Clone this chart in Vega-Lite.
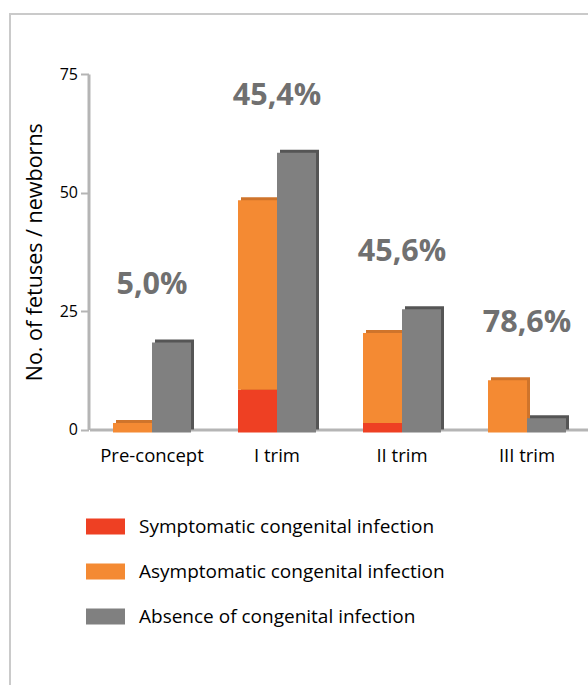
{
  "$schema": "https://vega.github.io/schema/vega-lite/v6.json",
  "width": 580,
  "height": 673,
  "autosize": {"type": "none"},
  "padding": {"left": 10, "top": 14, "right": 0, "bottom": 0},
  "background": "white",
  "config": {
    "font": "Open Sans",
    "view": {"stroke": "#cacaca", "strokeWidth": 2}
  },
  "datasets": {
    "bars": [
      {"period": "Pre-concept", "group": "Infected", "category": "Asymptomatic congenital infection", "value": 2},
      {"period": "Pre-concept", "group": "Uninfected", "category": "Absence of congenital infection", "value": 19},
      {"period": "I trim", "group": "Infected", "category": "Symptomatic congenital infection", "value": 9},
      {"period": "I trim", "group": "Infected", "category": "Asymptomatic congenital infection", "value": 40},
      {"period": "I trim", "group": "Uninfected", "category": "Absence of congenital infection", "value": 59},
      {"period": "II trim", "group": "Infected", "category": "Symptomatic congenital infection", "value": 2},
      {"period": "II trim", "group": "Infected", "category": "Asymptomatic congenital infection", "value": 19},
      {"period": "II trim", "group": "Uninfected", "category": "Absence of congenital infection", "value": 26},
      {"period": "III trim", "group": "Infected", "category": "Asymptomatic congenital infection", "value": 11},
      {"period": "III trim", "group": "Uninfected", "category": "Absence of congenital infection", "value": 3}
    ],
    "labels": [
      {"period": "Pre-concept", "label": "5,0%", "top": 19},
      {"period": "I trim", "label": "45,4%", "top": 59},
      {"period": "II trim", "label": "45,6%", "top": 26},
      {"period": "III trim", "label": "78,6%", "top": 11}
    ]
  },
  "layer": [
    {
      "data": {"name": "bars"},
      "mark": {"type": "bar"},
      "encoding": {
        "x": {
          "field": "period", "type": "nominal",
          "sort": ["Pre-concept", "I trim", "II trim", "III trim"],
          "scale": {"range": [79.5, 579.5], "paddingInner": 0.376, "paddingOuter": 0.188},
          "axis": {
            "title": null, "offset": -257.5, "ticks": false, "tickSize": 0,
            "labelFontSize": 18.5, "labelColor": "black", "labelPadding": 17, "labelAngle": 0,
            "domainColor": "#b5b5b5", "domainWidth": 3
          }
        },
        "xOffset": {
          "field": "group", "type": "nominal", "sort": ["Infected", "Uninfected"],
          "scale": {"range": [3, 81], "paddingInner": 0, "paddingOuter": 0}
        },
        "y": {
          "field": "value", "type": "quantitative", "stack": "zero",
          "scale": {"domain": [0, 75], "range": [415.5, 60], "nice": false},
          "axis": {
            "values": [0, 25, 50, 75], "title": "No. of fetuses / newborns", "offset": -78.5, "grid": false,
            "domainColor": "#b5b5b5", "domainWidth": 3, "tickColor": "#b5b5b5", "tickWidth": 2, "tickSize": 8,
            "labelFontSize": 16, "labelColor": "black", "labelPadding": 3,
            "titleFontSize": 21.5, "titleFontWeight": "normal", "titleColor": "black", "titlePadding": 13
          }
        },
        "color": {
          "field": "category", "type": "nominal",
          "scale": {
            "domain": ["Symptomatic congenital infection", "Asymptomatic congenital infection", "Absence of congenital infection"],
            "range": ["#b53219", "#cf742b", "#555555"]
          },
          "legend": null
        },
        "order": {"field": "category", "sort": "descending"}
      }
    },
    {
      "data": {"name": "bars"},
      "mark": {"type": "bar", "yOffset": 3, "y2Offset": 3},
      "encoding": {
        "x": {"field": "period", "type": "nominal", "sort": ["Pre-concept", "I trim", "II trim", "III trim"]},
        "xOffset": {
          "field": "group", "type": "nominal", "sort": ["Infected", "Uninfected"],
          "scale": {"range": [0, 78], "paddingInner": 0, "paddingOuter": 0}
        },
        "y": {"field": "value", "type": "quantitative", "stack": "zero"},
        "color": {
          "field": "category", "type": "nominal",
          "scale": {
            "domain": ["Symptomatic congenital infection", "Asymptomatic congenital infection", "Absence of congenital infection"],
            "range": ["#ee4023", "#f48a33", "#808080"]
          },
          "legend": {
            "orient": "none", "legendX": 76, "legendY": 493, "title": null, "direction": "vertical",
            "symbolType": "M-1,-0.41H1V0.41H-1Z", "symbolSize": 1521, "symbolStrokeWidth": 0,
            "labelFontSize": 19, "labelColor": "black", "labelOffset": 14, "labelLimit": 500, "rowPadding": 15
          }
        },
        "order": {"field": "category", "sort": "descending"}
      }
    },
    {
      "data": {"name": "labels"},
      "mark": {"type": "text", "dy": -54, "baseline": "middle", "fontSize": 30.5, "fontWeight": "bold", "color": "#707070"},
      "encoding": {
        "x": {"field": "period", "type": "nominal", "sort": ["Pre-concept", "I trim", "II trim", "III trim"]},
        "y": {"field": "top", "type": "quantitative"},
        "text": {"field": "label"}
      }
    }
  ],
  "resolve": {"scale": {"color": "independent", "xOffset": "independent"}}
}
